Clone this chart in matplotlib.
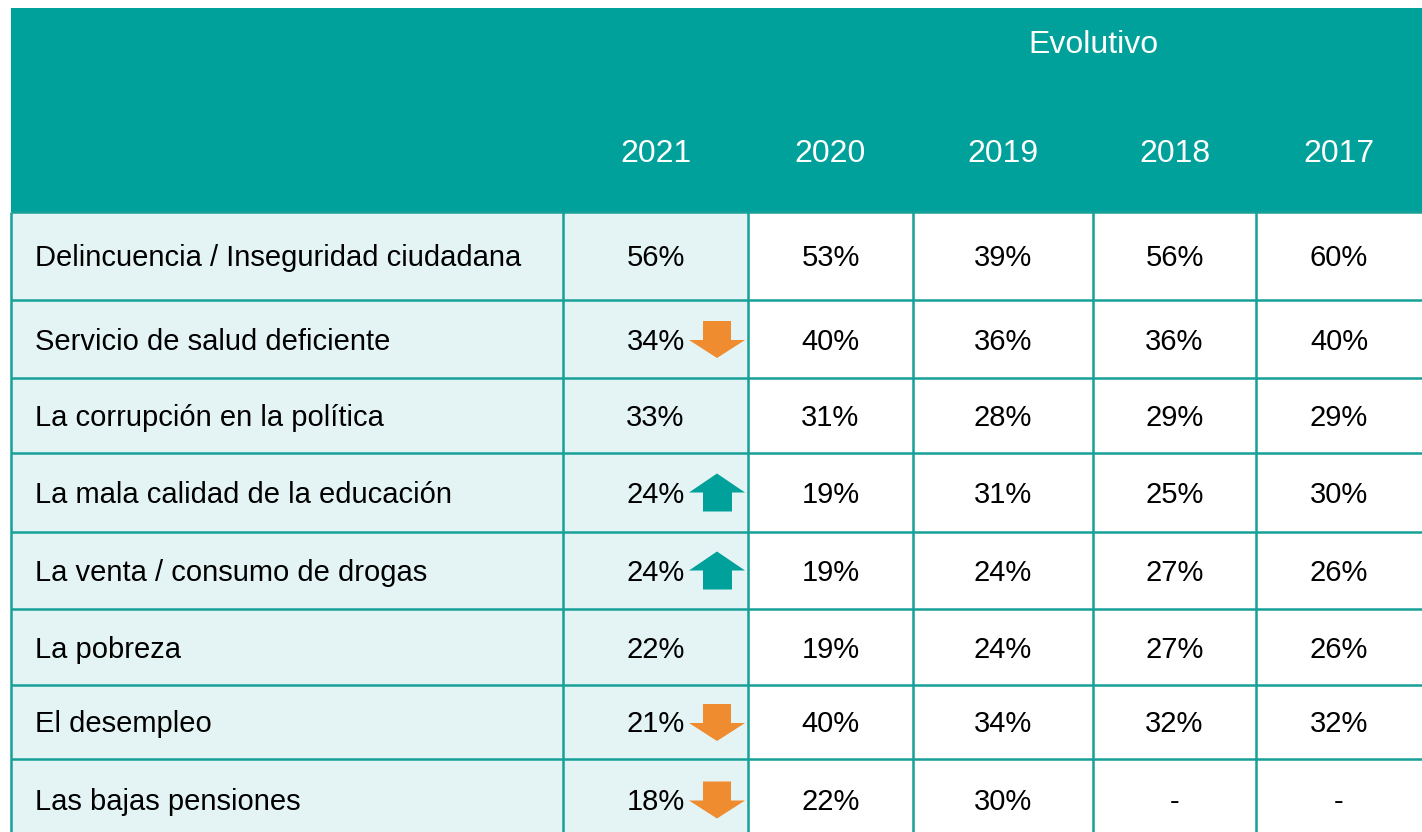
import matplotlib.pyplot as plt
from matplotlib.patches import Rectangle, Polygon

plt.rcParams['font.family'] = ['Liberation Sans', 'DejaVu Sans']

# data
temas = ['Delincuencia / Inseguridad ciudadana',
         'Servicio de salud deficiente',
         'La corrupción en la política',
         'La mala calidad de la educación',
         'La venta / consumo de drogas',
         'La pobreza',
         'El desempleo',
         'Las bajas pensiones']
years = ['2021', '2020', '2019', '2018', '2017']
v2021 = ['56%', '34%', '33%', '24%', '24%', '22%', '21%', '18%']
v2020 = ['53%', '40%', '31%', '19%', '19%', '19%', '40%', '22%']
v2019 = ['39%', '36%', '28%', '31%', '24%', '24%', '34%', '30%']
v2018 = ['56%', '36%', '29%', '25%', '27%', '27%', '32%', '-']
v2017 = ['60%', '40%', '29%', '30%', '26%', '26%', '32%', '-']
tendencia = [None, 'down', None, 'up', 'up', None, 'down', 'down']

cols = [v2021, v2020, v2019, v2018, v2017]

# colours
teal = '#00A19A'
light = '#E4F4F4'
orange = '#EE8C2F'
line_c = '#17A097'

# layout in pixels
W, H = 1422, 832
xs = [11, 563, 748, 913, 1093, 1256, 1430]
ys = [8, 212, 300, 378, 453, 532, 609, 685, 759, 840]

fig = plt.figure(figsize=(W / 100, H / 100), dpi=100)
ax = fig.add_axes([0, 0, 1, 1])
ax.set_xlim(0, W)
ax.set_ylim(H, 0)
ax.axis('off')

# header
ax.add_patch(Rectangle((xs[0], ys[0]), xs[-1] - xs[0], ys[1] - ys[0],
                       facecolor=teal, edgecolor='none'))
ax.text(xs[4], 45, 'Evolutivo', color='white',
        fontsize=23, ha='center', va='center')
for j, y in enumerate(years):
    cx = (xs[j + 1] + min(xs[j + 2], W)) / 2
    ax.text(cx, 154, y, color='white', fontsize=23, ha='center', va='center')

# body cells
for i, tema in enumerate(temas):
    y0, y1 = ys[i + 1], ys[i + 2]
    cy = (y0 + y1) / 2
    for j in range(6):
        fc = light if j < 2 else 'white'
        ax.add_patch(Rectangle((xs[j], y0), xs[j + 1] - xs[j], y1 - y0,
                               facecolor=fc, edgecolor='none'))
    ax.text(35, cy + 2.5, tema, fontsize=21, ha='left', va='center', color='black')
    for j, col in enumerate(cols):
        cx = (xs[j + 1] + min(xs[j + 2], W)) / 2
        ax.text(cx, cy + 2.5, col[i], fontsize=21, ha='center', va='center',
                color='black')
    t = tendencia[i]
    if t == 'down':
        pts = [(703, cy - 18), (731, cy - 18), (731, cy + 1), (745, cy + 1),
               (717, cy + 19), (689, cy + 1), (703, cy + 1)]
        ax.add_patch(Polygon(pts, closed=True, facecolor=orange, edgecolor='none'))
    elif t == 'up':
        pts = [(703, cy + 19), (732, cy + 19), (732, cy), (745, cy),
               (717, cy - 19), (689, cy), (703, cy)]
        ax.add_patch(Polygon(pts, closed=True, facecolor=teal, edgecolor='none'))

# grid lines
for y in ys[1:-1]:
    ax.plot([xs[0], W], [y, y], color=line_c, lw=1.8, solid_capstyle='butt')
for x in xs[:-1]:
    ax.plot([x, x], [ys[1], H], color=line_c, lw=1.8, solid_capstyle='butt')

fig.savefig('out.png', dpi=100)
